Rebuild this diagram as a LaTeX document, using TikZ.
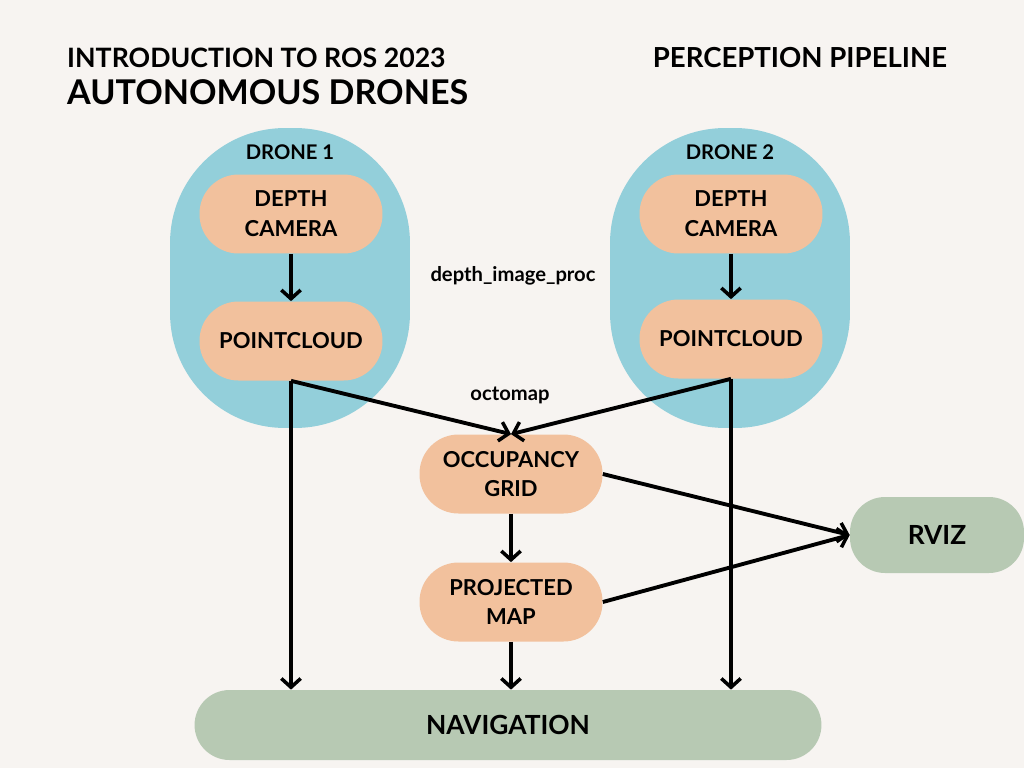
\documentclass[tikz,border=0pt]{standalone}
\usepackage{fontspec}
\setmainfont{Lato}
\usetikzlibrary{positioning}
\usetikzlibrary{arrows.meta}
\definecolor{bgcol}{HTML}{F7F4F1}
\definecolor{dronecol}{HTML}{93CFDA}
\definecolor{pillcol}{HTML}{F2C19D}
\definecolor{outcol}{HTML}{B7C9B3}
\tikzset{
      every node/.style={font=\bfseries}, % All labels bold
      drone/.style={ % Big blue containers
      fill=dronecol,
      minimum width=4.8cm, minimum height=6cm,
      rounded corners=2.3cm},
      pill/.style={ % Orange processing steps
      fill=pillcol, align=center,
      font=\bfseries\fontsize{12.5}{17}\selectfont,
      minimum width=3.66cm, minimum height=1.58cm,
      rounded corners=0.78cm},
      target/.style={ % Green outputs
      fill=outcol,
      font=\bfseries\fontsize{15}{18}\selectfont,
      rounded corners=0.7cm},
      flow/.style={ % Connectors
      draw, line width=2.2pt,
      -{Straight Barb[length=5pt,width=11pt,line width=2pt]}}}
\begin{document}
\begin{tikzpicture}[x=0.02cm,y=-0.02cm]
      \fill[bgcol] (0,0) rectangle (1024,768);
      \useasboundingbox (0,0) rectangle (1024,768);
      % titles
      \node[anchor=west, font=\bfseries\fontsize{15.2}{18}\selectfont] (intro) at (61,58) {INTRODUCTION TO ROS 2023};
      \node[anchor=west, font=\bfseries\fontsize{19.4}{22}\selectfont] (title) at (61,92) {AUTONOMOUS DRONES};
      \node[font=\bfseries\fontsize{15.7}{19}\selectfont] (pipe) at (800,58) {PERCEPTION PIPELINE};
      % drones
      \node[drone] (d1) at (290,278) {};
      \node[drone] (d2) at (730,278) {};
      \node[font=\bfseries\fontsize{11.5}{14}\selectfont] (d1lbl) at (290,152) {DRONE 1};
      \node[font=\bfseries\fontsize{11.5}{14}\selectfont] (d2lbl) at (730,152) {DRONE 2};
      \node[pill] (cam1) at (291,214) {DEPTH\\CAMERA};
      \node[pill] (pc1) at (291,341) {POINTCLOUD};
      \node[pill] (cam2) at (731,214) {DEPTH\\CAMERA};
      \node[pill] (pc2) at (731,339) {POINTCLOUD};
      % shared steps
      \node[pill] (occ) at (511,474) {OCCUPANCY\\GRID};
      \node[pill] (proj) at (511,602) {PROJECTED\\MAP};
      \node[target, minimum width=3.48cm, minimum height=1.52cm] (rviz) at (937,535) {RVIZ};
      \node[target, minimum width=12.54cm, minimum height=1.4cm] (nav) at (508,725) {NAVIGATION};
      \node[font=\bfseries\fontsize{11.5}{14}\selectfont] (dip) at (513,276) {depth\_image\_proc};
      \node[font=\bfseries\fontsize{11.5}{14}\selectfont] (octo) at (510,395) {octomap};
      % connectors
      \draw[flow] (cam1) -- (pc1);
      \draw[flow] (cam2) -- (pc2);
      \draw[flow] (pc1.south) -- (occ.north);
      \draw[flow] (pc2.south) -- (occ.north);
      \draw[flow] (pc1.south) -- (pc1.south |- nav.north);
      \draw[flow] (pc2.south) -- (pc2.south |- nav.north);
      \draw[flow] (occ) -- (proj);
      \draw[flow] (proj.south) -- (proj.south |- nav.north);
      \draw[flow] (occ.east) -- (rviz.west);
      \draw[flow] (proj.east) -- (rviz.west);
\end{tikzpicture}
\end{document}
